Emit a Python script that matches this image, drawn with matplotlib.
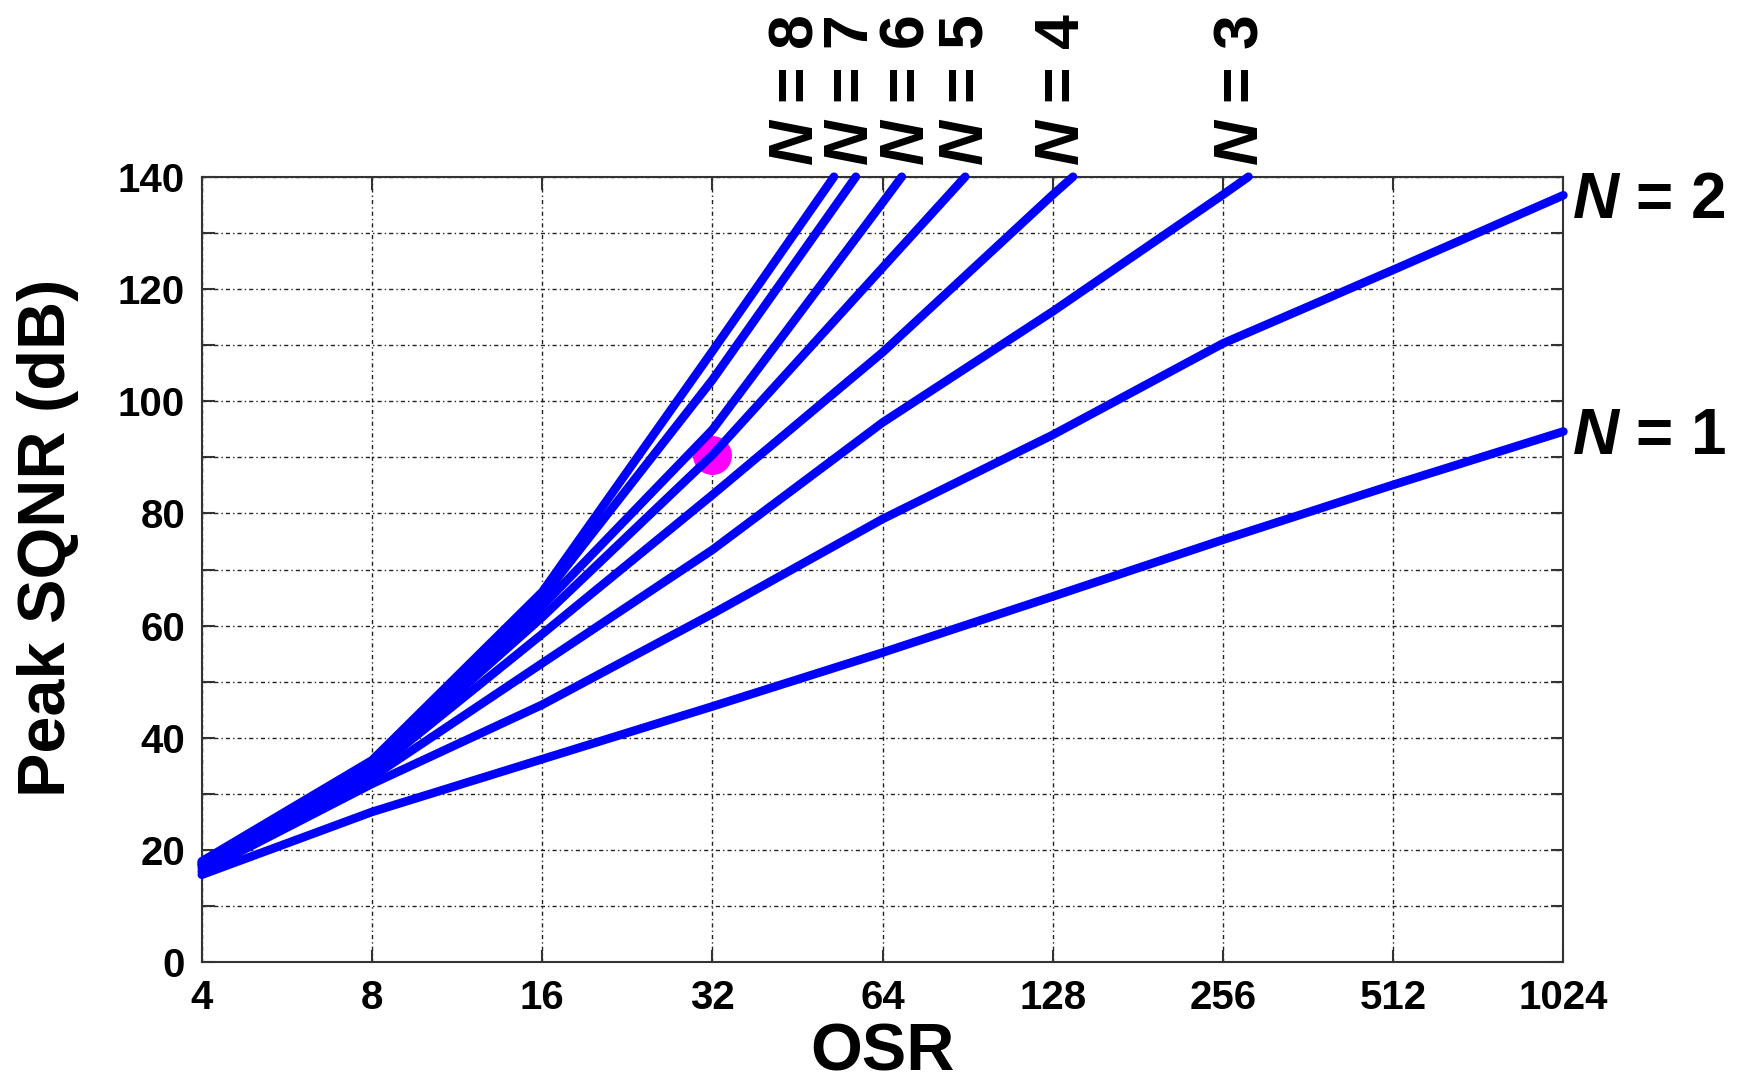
import matplotlib
matplotlib.use("Agg")
import matplotlib.pyplot as plt

plt.rcParams["font.family"] = ["Liberation Sans", "DejaVu Sans"]
plt.rcParams["font.weight"] = "bold"
plt.rcParams["mathtext.fontset"] = "custom"
plt.rcParams["mathtext.it"] = "Liberation Sans:italic:bold"
plt.rcParams["mathtext.rm"] = "Liberation Sans:bold"

# OSR grid points (octaves) and peak SQNR, in dB
osr = [4, 8, 16, 32, 64, 128, 256, 512, 1024]
sqnr_n1 = [15.6, 26.8, 36.2, 45.6, 55.2, 65.2, 75.3, 85.1, 94.6]
sqnr_n2 = [16.2, 31.8, 45.9, 62.1, 79.0, 94.0, 110.3, 123.4, 136.7]
sqnr_n3 = [16.8, 33.0, 53.3, 73.5, 96.2, 116.0, 136.8]
sqnr_n4 = [17.2, 34.0, 58.5, 83.3, 108.7, 136.8]
sqnr_n5 = [17.4, 34.5, 61.5, 90.4, 123.8]
sqnr_n6 = [17.6, 35.0, 63.5, 94.9, 135.4]
sqnr_n7 = [17.8, 35.5, 65.0, 103.8]
sqnr_n8 = [18.0, 36.0, 66.0, 108.9]

# OSR where the higher-order curves leave the top of the plot (140 dB)
osr_top = {3: 284, 4: 139, 5: 89.6, 6: 69.2, 7: 57.4, 8: 52.5}
sqnr_max = 140

# highlighted design point
dot_osr = 32
dot_sqnr = 90.4

# label placement (OSR) for the labels above the plot
label_osr = {8: 45.0, 7: 56.5, 6: 70.7, 5: 89.9, 4: 133.2, 3: 275.5}

curves = {1: sqnr_n1, 2: sqnr_n2, 3: sqnr_n3, 4: sqnr_n4,
          5: sqnr_n5, 6: sqnr_n6, 7: sqnr_n7, 8: sqnr_n8}

fig = plt.figure(figsize=(17.47, 10.85), dpi=100)
ax = fig.add_axes([0.1155, 0.1131, 0.7794, 0.7240])

ax.plot([dot_osr], [dot_sqnr], "o", color="#ff00ff", markersize=27, zorder=2)

for n, vals in curves.items():
    x = osr[:len(vals)]
    y = list(vals)
    if n in osr_top:
        x = x + [osr_top[n]]
        y = y + [sqnr_max]
    ax.plot(x, y, color="#0000ff", linewidth=6.2, solid_capstyle="round",
            solid_joinstyle="round", clip_on=False, zorder=3)

ax.set_xscale("log", base=2)
ax.set_xlim(4, 1024)
ax.set_ylim(0, 140)
ax.set_xticks(osr)
ax.set_xticklabels([str(v) for v in osr])
ax.minorticks_off()
yt = list(range(0, 141, 10))
ax.set_yticks(yt)
ax.set_yticklabels([str(v) if v % 20 == 0 else "" for v in yt])

ax.grid(True, color="#222222", linestyle=(0, (3, 2.2, 1, 2.2)), linewidth=1.0)
ax.set_axisbelow(True)
ax.tick_params(direction="in", length=9, width=1.5, top=True, right=True,
               labelsize=29, color="#333333")
ax.tick_params(axis="x", pad=12)
ax.tick_params(axis="y", pad=12)
for sp in ax.spines.values():
    sp.set_color("#333333")
    sp.set_linewidth(1.5)

ax.set_xlabel("OSR", fontsize=48, fontweight="bold")
ax.set_ylabel("Peak SQNR (dB)", fontsize=48, fontweight="bold")
ax.xaxis.set_label_coords(0.5, -0.077)
ax.yaxis.set_label_coords(-0.09, 0.54)

for n, xo in label_osr.items():
    ax.annotate(f"$N$ = {n}", xy=(xo, sqnr_max), xytext=(0, 8),
                textcoords="offset points", rotation=90, ha="center",
                va="bottom", fontsize=45, annotation_clip=False)

for n, vals in [(2, sqnr_n2), (1, sqnr_n1)]:
    ax.annotate(f"$N$ = {n}", xy=(osr[-1], vals[-1]), xytext=(6, -4),
                textcoords="offset points", ha="left", va="center",
                fontsize=46, annotation_clip=False)

fig.savefig("out.png", dpi=100)
